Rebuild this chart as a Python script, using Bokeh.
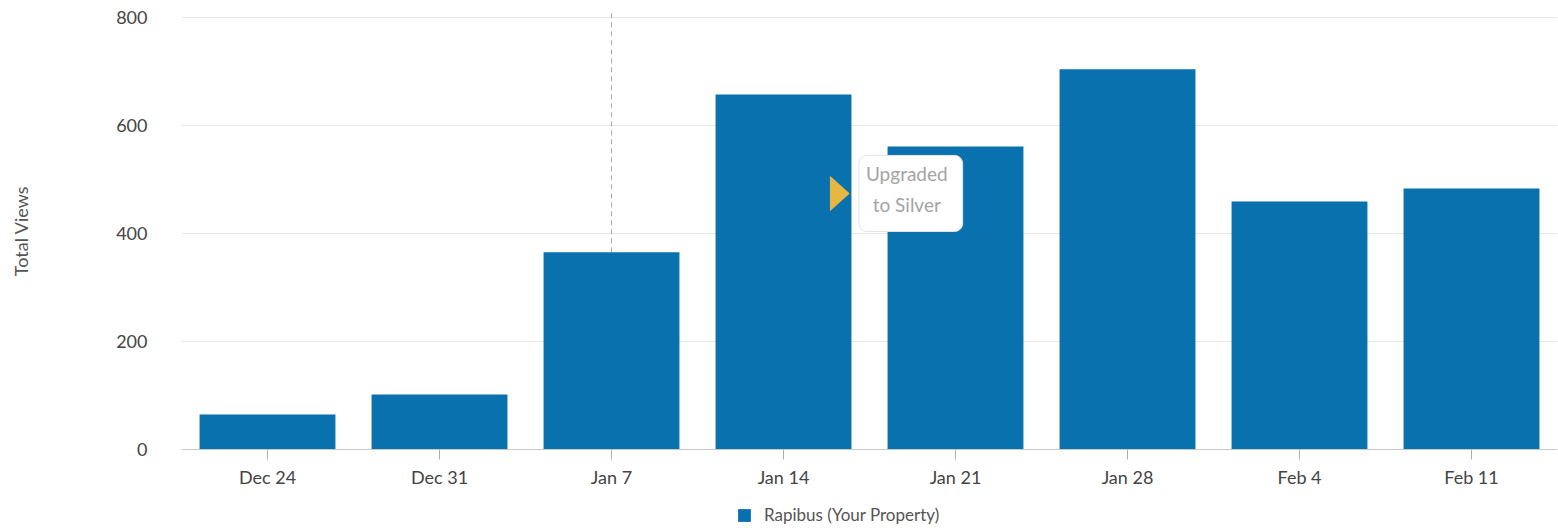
import math
from bokeh.plotting import figure
from bokeh.layouts import column
from bokeh.models import Range1d, FactorRange, Label, Legend, LegendItem, ColumnDataSource
from bokeh.embed import file_html
from bokeh.resources import INLINE

weeks = ["Dec 24", "Dec 31", "Jan 7", "Jan 14", "Jan 21", "Jan 28", "Feb 4", "Feb 11"]
views = [65, 102, 365, 657, 561, 704, 459, 483]
y_ticks = [0, 200, 400, 600, 800]
series_name = "Rapibus (Your Property)"
event_week = "Jan 7"
event_text = "Upgraded\nto Silver"
note_week = "Jan 14"

FONT = "Lato"
BAR = "#0971ae"

p = figure(width=1557, height=490, x_range=FactorRange(factors=weeks),
           y_range=Range1d(0, 809), output_backend="svg", toolbar_location=None,
           min_border_left=181, min_border_right=0, min_border_top=12, min_border_bottom=41)
p.outline_line_color = None
p.background_fill_color = "white"

src = ColumnDataSource(dict(week=weeks, views=views))
bars = p.vbar(x="week", top="views", width=0.79, source=src,
              fill_color=BAR, line_color=None)

# event marker (dashed line above the event week bar)
ev_val = views[weeks.index(event_week)]
p.segment(x0=[event_week], y0=[ev_val], x1=[event_week], y1=[809],
          line_color="#aaaaaa", line_dash="5 4", line_width=1)

# note triangle and box (synthetic categorical coordinates)
idx = weeks.index(note_week)
cx = idx + 0.5
p.patch(x=[cx + 0.27, cx + 0.27, cx + 0.385], y=[507, 441, 474],
        fill_color="#e7b744", line_color=None)
note = Label(x=cx + 0.74, y=474, text=event_text, text_align="center",
             text_baseline="middle", text_font=FONT, text_font_size="19px",
             text_color="#a4a4a4", background_fill_color="white",
             border_line_color="#e4e4e4", border_radius=8, padding=(7, 15, 7, 15),
             text_line_height=1.35)
p.add_layout(note)

# axes
p.yaxis.ticker = y_ticks
p.yaxis.axis_line_color = None
p.yaxis.major_tick_line_color = None
p.yaxis.minor_tick_line_color = None
p.yaxis.major_label_standoff = 28
p.yaxis.major_label_text_font = FONT
p.yaxis.major_label_text_font_size = "18px"
p.yaxis.major_label_text_color = "#444444"
p.yaxis.axis_label = "Total Views"
p.yaxis.axis_label_text_font = FONT
p.yaxis.axis_label_text_font_style = "normal"
p.yaxis.axis_label_text_font_size = "18px"
p.yaxis.axis_label_text_color = "#555555"
p.yaxis.axis_label_standoff = 81

p.xaxis.axis_line_color = "#c8c8c8"
p.xaxis.major_tick_line_color = "#b0b0b0"
p.xaxis.major_tick_out = 10
p.xaxis.major_tick_in = 0
p.xaxis.major_label_standoff = 6
p.xaxis.major_label_text_font = FONT
p.xaxis.major_label_text_font_size = "18px"
p.xaxis.major_label_text_color = "#444444"

p.xgrid.grid_line_color = None
p.ygrid.grid_line_color = "#e6e6e6"

# legend strip below the chart
lg = figure(width=1557, height=38, x_range=Range1d(0, 1), y_range=Range1d(0, 1),
            output_backend="svg", toolbar_location=None, min_border=0)
lg.outline_line_color = None
lg.axis.visible = False
lg.grid.visible = False
swatch = lg.vbar(x=[5], top=[1], width=0.1, fill_color=BAR, line_color=None)
legend = Legend(items=[LegendItem(label=series_name, renderers=[swatch])],
                location=(555, 3), orientation="horizontal",
                border_line_color=None, background_fill_alpha=0,
                glyph_width=16, glyph_height=16, label_height=16,
                label_text_font=FONT, label_text_font_size="17px",
                label_text_color="#555555", padding=0, margin=0, label_standoff=12)
lg.add_layout(legend)

layout = column(p, lg, spacing=0)
open("out.html", "w").write(file_html(layout, INLINE))
